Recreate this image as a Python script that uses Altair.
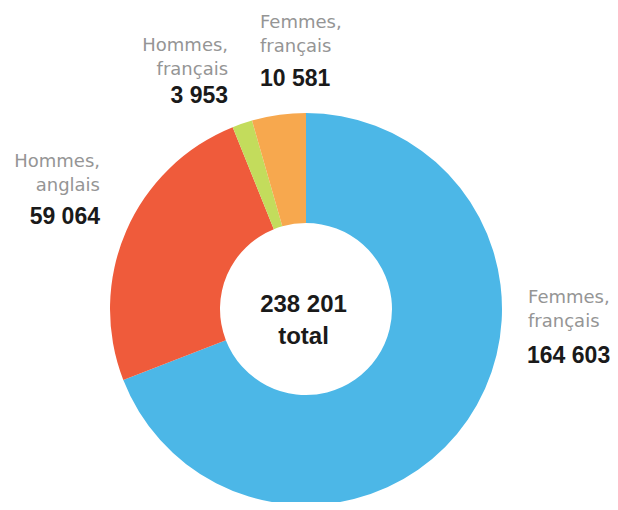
import altair as alt
import pandas as pd

# --- data ---
cles = ["f_fr_bleu", "h_en", "h_fr", "f_fr_orange"]
noms = ["Femmes,\nfrançais", "Hommes,\nanglais", "Hommes,\nfrançais", "Femmes,\nfrançais"]
valeurs = [164603, 59064, 3953, 10581]
ordre = [0, 1, 2, 3]
couleurs = ["#4cb7e7", "#ef5b3b", "#c3dc5c", "#f7a84e"]

def fmt(v):
    return f"{v:,}".replace(",", " ")

df = pd.DataFrame({
    "cle": cles,
    "nom": noms,
    "valeur": valeurs,
    "ordre": ordre,
    "nombre": [fmt(v) for v in valeurs],
})
total = sum(valeurs)

CX, CY = 298, 301
R_OUT, R_IN = 196, 86
R_LAB = 215

theta_scale = alt.Scale(domain=[0, total], range=[0, 6.283185307179586])
color_scale = alt.Scale(domain=cles, range=couleurs)

arcs = alt.Chart(df).mark_arc(outerRadius=R_OUT, innerRadius=R_IN).encode(
    theta=alt.Theta("valeur:Q", stack=True, scale=theta_scale),
    color=alt.Color("cle:N", scale=color_scale, legend=None),
    order=alt.Order("ordre:Q"),
    x=alt.value(CX),
    y=alt.value(CY),
)

base = alt.Chart(df).transform_window(
    cum="sum(valeur)", sort=[alt.SortField("ordre")], frame=[None, 0]
).transform_calculate(mid="datum.cum - datum.valeur / 2")

NAME_FONT = "DejaVu Sans"
NUM_FONT = "Liberation Sans"

# per-label styling: (align, dx_name, dy_name, dx_num, dy_num)
placement = {
    "f_fr_bleu": ("left", 44.6, -132.4, 43.6, -74.4),
    "h_en": ("right", -8.7, -62.1, -8.7, -6.6),
    "h_fr": ("right", -8.0, -59.7, -8.0, -9.7),
    "f_fr_orange": ("left", -16.1, -73.1, -16.1, -17.1),
}

layers = [arcs]
for cle in cles:
    align, dxn, dyn, dxv, dyv = placement[cle]
    sub = base.transform_filter(alt.datum.cle == cle)
    layers.append(
        sub.mark_text(
            align=align, baseline="middle", lineBreak="\n", lineHeight=24,
            font=NAME_FONT, fontSize=18, color="#959595", dx=dxn, dy=dyn,
        ).encode(
            theta=alt.Theta("mid:Q", scale=theta_scale),
            radius=alt.value(R_LAB),
            x=alt.value(CX), y=alt.value(CY),
            text="nom:N",
        )
    )
    layers.append(
        sub.mark_text(
            align=align, baseline="middle",
            font=NUM_FONT, fontSize=23, fontWeight="bold", color="#1a1a1a", dx=dxv, dy=dyv,
        ).encode(
            theta=alt.Theta("mid:Q", scale=theta_scale),
            radius=alt.value(R_LAB),
            x=alt.value(CX), y=alt.value(CY),
            text="nombre:N",
        )
    )

centre = alt.Chart(df).transform_aggregate(
    tot="sum(valeur)"
).transform_calculate(
    lbl="replace(format(datum.tot, ','), ',', ' ') + '\\ntotal'"
).mark_text(
    align="center", baseline="middle", lineBreak="\n", lineHeight=32,
    font=NUM_FONT, fontSize=24, fontWeight="bold", color="#1a1a1a", dx=-2.5, dy=-4,
).encode(
    x=alt.value(CX), y=alt.value(CY), text="lbl:N"
)
layers.append(centre)

chart = alt.layer(*layers).properties(
    width=602, height=494, padding=0, autosize=alt.AutoSizeParams(type="none"),
    background="white",
).configure_view(strokeWidth=0, stroke=None)

chart.save("out.html", embed_options={"renderer": "svg", "actions": False})
